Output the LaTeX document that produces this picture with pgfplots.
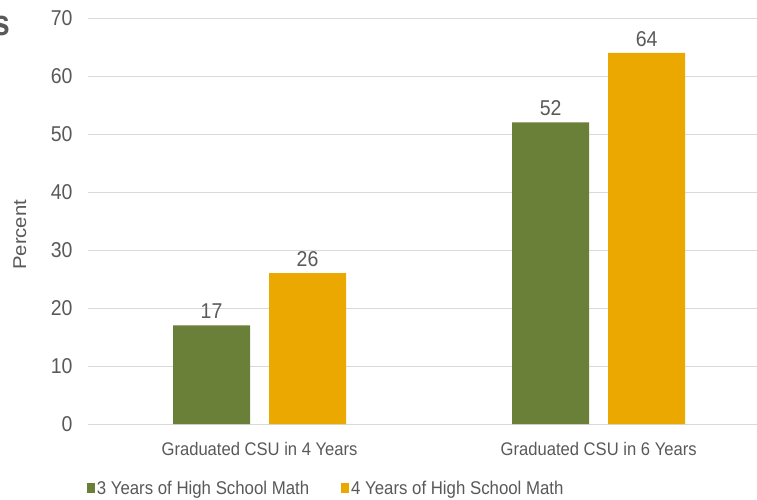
\documentclass[border=0pt]{standalone}
\usepackage{pgfplots}
\pgfplotsset{compat=1.18}
\usepackage{fontspec}
\setmainfont{Liberation Sans}
\definecolor{olivebar}{RGB}{106,128,56}
\definecolor{goldbar}{RGB}{235,168,0}
\definecolor{txtgrey}{RGB}{89,89,89}
\definecolor{gridgrey}{RGB}{217,217,217}
\newcommand{\vs}[1]{\scalebox{1}[1.1]{#1}}
\begin{document}
\begin{tikzpicture}
\begin{axis}[
  at={(0,0)}, anchor=south west,
  scale only axis,
  width=669pt, height=406pt,
  ybar, bar width=77pt,
  xmin=-0.506, xmax=1.467,
  ymin=0, ymax=70,
  ytick={0,10,...,70},
  xtick=data,
  xticklabels={\vs{Graduated CSU in 4 Years}, \vs{Graduated CSU in 6 Years}},
  yticklabel={\vs{\pgfmathprintnumber{\tick}}},
  axis line style={draw=none},
  ymajorgrids, grid style={gridgrey, line width=0.8pt},
  major tick length=0pt,
  tick label style={text=txtgrey},
  yticklabel style={xshift=-12pt, font=\fontsize{19.5}{22}\selectfont},
  xticklabel style={yshift=-15pt, font=\fontsize{16.6}{19}\selectfont},
  /pgf/number format/assume math mode=true,
  ylabel={\scalebox{1.1}[1]{Percent}},
  ylabel style={at={(axis description cs:-0.102,0.466)}, anchor=center, font=\fontsize{18.5}{21}\selectfont, text=txtgrey},
  nodes near coords={\vs{\pgfmathprintnumber{\pgfplotspointmeta}}},
  nodes near coords style={font=\fontsize{19.5}{22}\selectfont, text=txtgrey, yshift=3pt},
  legend columns=2,
  legend style={draw=none, at={(0.356,-0.158)}, anchor=center,
    font=\fontsize{16.8}{19}\selectfont, text=txtgrey,
    /tikz/every even column/.append style={column sep=30pt}},
  legend image code/.code={\fill[#1] (2pt,-5pt) rectangle (10pt,5pt);},
  clip=false,
]
\draw[gridgrey, line width=1pt] (rel axis cs:0,0) -- (rel axis cs:1,0);
\addplot[fill=olivebar, draw=none, bar shift=-48pt] coordinates {(0,17) (1,52)};
\addlegendentry{\vs{3 Years of High School Math}}
\addplot[fill=goldbar, draw=none, bar shift=48pt] coordinates {(0,26) (1,64)};
\addlegendentry{\vs{4 Years of High School Math}}
\end{axis}
\node[anchor=east, font=\fontsize{30}{34}\bfseries\selectfont, text=txtgrey, inner sep=0pt] at (-78pt,398pt) {\scalebox{1}[1.2]{s}};
\pgfresetboundingbox
\path (-88pt,-76pt) rectangle (669pt,424pt);
\end{tikzpicture}
\end{document}
